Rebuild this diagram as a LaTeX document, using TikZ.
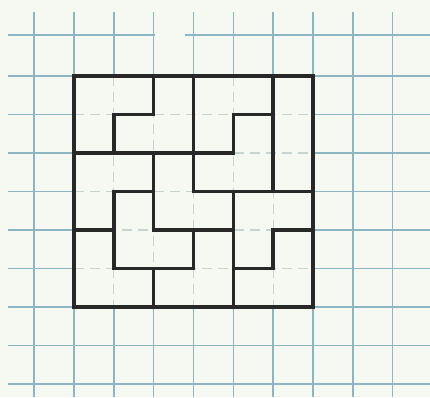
\documentclass[tikz,border=0pt]{standalone}
\definecolor{bgc}{RGB}{246,248,242}
\definecolor{gridc}{RGB}{140,182,194}
\definecolor{faintc}{RGB}{200,212,210}
\definecolor{inkc}{RGB}{40,40,40}
\tikzset{
  gridline/.style={draw=gridc, line width=1.5pt},
  faintline/.style={draw=faintc, line width=1.2pt, dash pattern=on 10pt off 6pt},
  cutline/.style={draw=inkc, line width=3.6pt, line cap=rect, line join=miter}
}
\begin{document}
\begin{tikzpicture}[x=1pt,y=-1pt]
\fill[bgc] (0,0) rectangle (430,397);
\useasboundingbox (0,0) rectangle (430,397);
% background graph paper
\foreach \i in {-1,...,8} \draw[gridline] ({74+39.83*\i},12) -- ({74+39.83*\i},397);
\foreach \j in {0,...,8} \draw[gridline] (8,{76+38.5*\j}) -- (430,{76+38.5*\j});
\draw[gridline] (8,35) -- (155,35);
\draw[gridline] (185,35) -- (430,35);
% faded paper inside the square
\begin{scope}[shift={(74,76)}, x=39.83pt, y=-38.5pt]
  \fill[bgc] (0,0) rectangle (6,6);
  \foreach \k in {1,...,5} {
    \draw[faintline] (\k,0) -- (\k,6);
    \draw[faintline] (0,\k) -- (6,\k);
  }
\end{scope}
% tromino dissection
\begin{scope}[shift={(74,76)}, x=39.83pt, y=-38.5pt]
  \draw[cutline] (0,0) rectangle (6,6);
  \draw[cutline] (2,0) -- (2,1) -- (1,1) -- (1,2);
  \draw[cutline] (3,0) -- (3,3);
  \draw[cutline] (5,0) -- (5,3);
  \draw[cutline] (5,1) -- (4,1) -- (4,2) -- (0,2);
  \draw[cutline] (3,3) -- (6,3);
  \draw[cutline] (2,2) -- (2,4);
  \draw[cutline] (2,3) -- (1,3) -- (1,5);
  \draw[cutline] (0,4) -- (1,4);
  \draw[cutline] (2,4) -- (4,4);
  \draw[cutline] (3,4) -- (3,5);
  \draw[cutline] (1,5) -- (3,5);
  \draw[cutline] (4,3) -- (4,6);
  \draw[cutline] (4,5) -- (5,5) -- (5,4) -- (6,4);
  \draw[cutline] (2,5) -- (2,6);
\end{scope}
\end{tikzpicture}
\end{document}
